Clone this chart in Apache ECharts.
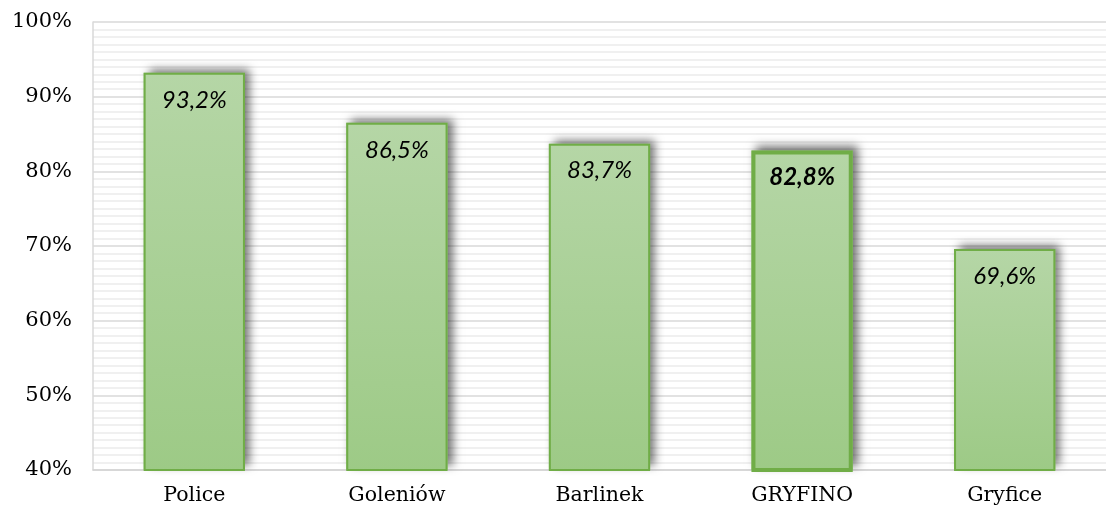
<!DOCTYPE html>
<html><head><meta charset="utf-8">
<script src="https://cdn.jsdelivr.net/npm/echarts@6/dist/echarts.min.js"></script>
<style>html,body{margin:0;padding:0;background:#fff}#c{width:1106px;height:513px}</style>
</head><body><div id="c"></div>
<script>
var categories = ['Police', 'Goleniów', 'Barlinek', 'GRYFINO', 'Gryfice'];
var values = [93.2, 86.5, 83.7, 82.8, 69.6];
var highlight = 'GRYFINO';
var yTicks = { min: 40, max: 100, interval: 10 };

var chart = echarts.init(document.getElementById('c'));
var grad = new echarts.graphic.LinearGradient(0, 0, 0, 1, [
  { offset: 0, color: '#b5d6a6' }, { offset: 1, color: '#9dca86' }
]);
var data = values.map(function (v, i) {
  var hi = categories[i] === highlight;
  return {
    value: v,
    itemStyle: { borderWidth: hi ? 4 : 2 },
    label: { fontWeight: hi ? 'bold' : 'normal' }
  };
});
chart.setOption({
  animation: false,
  grid: { left: 93, right: -10, top: 22, bottom: 43, containLabel: false },
  xAxis: {
    type: 'category', data: categories,
    axisLine: { show: true, lineStyle: { color: '#d4d4d4', width: 1.5 } },
    axisTick: { show: false },
    axisLabel: { fontFamily: 'DejaVu Serif', fontSize: 20.5, color: '#000', margin: 15 }
  },
  yAxis: {
    type: 'value', min: yTicks.min, max: yTicks.max, interval: yTicks.interval,
    axisLine: { show: true, lineStyle: { color: '#d9d9d9', width: 1.5 } },
    axisTick: { show: false },
    axisLabel: { fontFamily: 'DejaVu Serif', fontSize: 21, color: '#000', margin: 21,
      formatter: function (v) { return v + '%'; } },
    splitLine: { show: true, lineStyle: { color: '#d9d9d9', width: 1.5 } },
    minorTick: { show: false, splitNumber: 10 },
    minorSplitLine: { show: true, lineStyle: { color: '#ececec', width: 1.5 } }
  },
  series: [{
    type: 'bar', data: values, barWidth: '50%', silent: true, z: 1,
    itemStyle: {
      color: '#9dca86',
      shadowBlur: 9, shadowColor: 'rgba(0,0,0,0.55)', shadowOffsetX: 5, shadowOffsetY: -4
    }
  }, {
    type: 'bar', data: data, barWidth: '50%', barGap: '-100%', z: 2,
    itemStyle: { color: grad, borderColor: '#70ad47', borderWidth: 2 },
    label: {
      show: true, position: 'insideTop', distance: 15,
      fontFamily: 'Lato', fontStyle: 'italic', fontSize: 24, color: '#000',
      formatter: function (p) { return p.value.toFixed(1).replace('.', ',') + '%'; }
    }
  }]
});
</script></body></html>
